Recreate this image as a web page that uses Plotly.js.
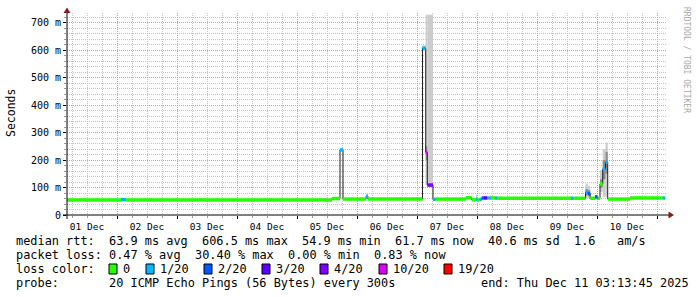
<!DOCTYPE html>
<html><head><meta charset="utf-8">
<script src="https://cdn.plot.ly/plotly-3.0.1.min.js"></script>
<style>html,body{margin:0;padding:0;background:#fff}#chart{width:697px;height:297px}</style>
</head><body><div id="chart"></div>
<script>
// ---- data ----
const segStart = [
 '2025-12-01 04:00','2025-12-02 01:36','2025-12-02 03:36','2025-12-05 14:00','2025-12-05 17:12',
 '2025-12-05 18:24','2025-12-06 03:36','2025-12-06 04:24','2025-12-07 02:12','2025-12-07 03:29',
 '2025-12-07 04:07','2025-12-07 06:24','2025-12-07 07:31','2025-12-07 19:36','2025-12-07 21:53',
 '2025-12-07 23:36','2025-12-08 00:07','2025-12-08 01:00','2025-12-08 01:53','2025-12-08 02:48',
 '2025-12-08 04:07','2025-12-08 04:31','2025-12-08 05:36','2025-12-08 07:12','2025-12-08 08:00',
 '2025-12-09 13:36','2025-12-09 14:31','2025-12-09 19:24','2025-12-09 20:19','2025-12-09 21:17',
 '2025-12-09 23:12','2025-12-10 00:12','2025-12-10 01:12','2025-12-10 02:17','2025-12-10 03:24',
 '2025-12-10 04:17','2025-12-10 13:12','2025-12-11 02:15'];
const dataEnd = '2025-12-11 03:15';
const medianMs = [55,56,55,60,237, 58,68,58,608,228, 109,57,58,63,55, 57,55,57,62,62,
 62,62,62,62,61, 61,61,83,78,61, 66,61,113,167,192, 58,62,62];
const lossCount = [0,1,0,0,1, 0,1,0,1,10, 4,1,0,0,0, 1,0,1,2,3,
 0,1,0,1,0, 1,0,1,2,0, 2,0,0,1,1, 0,0,1];
const smokeLo = [null,null,null,null,233, null,62,null,598,110, 105,null,null,null,null, 54,null,null,null,null,
 null,null,null,null,null, null,null,62,62,null, 60,null,84,65,65, null,null,null];
const smokeHi = [null,null,null,null,242, null,74,null,618,730, 730,null,null,null,null, 75,null,null,null,null,
 null,null,null,null,null, null,null,115,105,null, 72,null,164,240,264, null,null,null];
const coreLo = [null,null,null,null,null, null,null,null,null,200, null,null,null,null,null, null,null,null,null,null,
 null,null,null,null,null, null,null,72,70,null, null,null,100,130,150, null,null,null];
const coreHi = [null,null,null,null,null, null,null,null,null,250, null,null,null,null,null, null,null,null,null,null,
 null,null,null,null,null, null,null,95,90,null, null,null,130,200,230, null,null,null];

const lossLevels = [0,1,2,3,4,10,19];
const lossColors = ['#26ff00','#00b8ff','#0059ff','#5e00ff','#7e00ff','#dd00ff','#ff0000'];
const lossLabels = ['0','1/20','2/20','3/20','4/20','10/20','19/20'];

const yTickVals = [0,100,200,300,400,500,600,700];
const yTickText = ['0','100 m','200 m','300 m','400 m','500 m','600 m','700 m'];

const rttStats = ['63.9 ms avg','606.5 ms max','54.9 ms min','61.7 ms now','40.6 ms sd','1.6','am/s'];
const lossStats = ['0.47 % avg','30.40 % max','0.00 % min','0.83 % now'];
const probeText = '20 ICMP Echo Pings (56 Bytes) every 300s';
const endText = 'end: Thu Dec 11 03:13:45 2025';

// ---- build ----
const toMs = s => Date.parse(s.replace(' ','T') + ':00Z');
const starts = segStart.map(toMs);
const ends = starts.slice(1).concat([toMs(dataEnd)]);
const colorIdx = l => { let k = 0; lossLevels.forEach((v,i)=>{ if (l >= v) k = i; }); return k; };

const traces = [];
function smokeBars(lo, hi, color) {
  const x=[], w=[], b=[], y=[];
  lo.forEach((v,i)=>{ if (v===null || hi[i]===null) return;
    x.push((starts[i]+ends[i])/2); w.push(ends[i]-starts[i]); b.push(v); y.push(hi[i]-v); });
  traces.push({type:'bar', x, y, base:b, width:w, marker:{color, line:{width:0}}, hoverinfo:'skip'});
}
smokeBars(smokeLo, smokeHi, '#cccccc');
smokeBars(coreLo, coreHi, '#8a8a8a');

traces.push({type:'scatter', mode:'lines', x: starts.concat([ends[ends.length-1]]),
  y: medianMs.concat([medianMs[medianMs.length-1]]), line:{shape:'hv', width:1, color:'#202020'}, hoverinfo:'skip'});

lossColors.forEach((c,ci)=>{
  const x=[], y=[];
  medianMs.forEach((m,i)=>{ if (colorIdx(lossCount[i])!==ci) return; x.push(starts[i],ends[i],null); y.push(m,m,null); });
  if (x.length) traces.push({type:'scatter', mode:'lines', x, y, connectgaps:false, line:{width:3.5, color:c}, hoverinfo:'skip'});
});

// ---- layout helpers (pixel -> paper) ----
const PL=67, PW=600, PB=215, PH=202;
const px = v => (v-PL)/PW, py = v => (PB-v)/PH;
const mono = 'DejaVu Sans Mono';
const CW = 7.15, LX = 16, FS = 11.9;
const col = c => LX + c*CW;
const ann = [];
const txt = (t, x, y, size) => ann.push({text:t, xref:'paper', yref:'paper', x:px(x), y:py(y),
  xanchor:'left', yanchor:'middle', showarrow:false, borderpad:0, borderwidth:0,
  font:{family:mono, size:size||FS, color:'#000'}});

txt('median rtt:', col(0), 241);
[13,26,40,53,66,78,84].forEach((c,i)=>txt(rttStats[i], col(c), 241));
txt('packet loss:', col(0), 255);
[13,25,38,50].forEach((c,i)=>txt(lossStats[i], col(c), 255));
txt('loss color:', col(0), 269);
const boxX = [109,146,204,262,320,379,444];
const labX = [123,160,218,276,334,393,458];
const shapes = [];
lossLabels.forEach((l,i)=>{
  txt(l, labX[i], 269);
  shapes.push({type:'rect', xref:'paper', yref:'paper', x0:px(boxX[i]), x1:px(boxX[i]+8), y0:py(274), y1:py(264),
    fillcolor:lossColors[i], line:{color:'#000', width:1}});
});
txt('probe:', col(0), 283);
txt(probeText, col(13), 283);
txt(endText, col(65), 283);

ann.push({text:'Seconds', xref:'paper', yref:'paper', x:px(11), y:py(113), textangle:-90,
  xanchor:'center', yanchor:'middle', showarrow:false, font:{family:mono, size:11.5, color:'#000'}});
ann.push({text:'RRDTOOL / TOBI OETIKER', xref:'paper', yref:'paper', x:px(687), y:py(60), textangle:90,
  xanchor:'center', yanchor:'middle', showarrow:false, font:{family:mono, size:8, color:'#a8a8a8'}});

// axes with arrows
shapes.push({type:'line', xref:'paper', yref:'paper', x0:px(63), x1:px(670), y0:0, y1:0, line:{color:'#000', width:1}});
shapes.push({type:'line', xref:'paper', yref:'paper', x0:0, x1:0, y0:py(219), y1:py(11), line:{color:'#000', width:1}});
shapes.push({type:'path', xref:'paper', yref:'paper',
  path:`M ${px(668.5)} ${py(211.5)} L ${px(674)} ${py(215)} L ${px(668.5)} ${py(218.5)} Z`, fillcolor:'#8b1a1a', line:{width:0}});
shapes.push({type:'path', xref:'paper', yref:'paper',
  path:`M ${px(63.5)} ${py(13)} L ${px(67)} ${py(7.5)} L ${px(70.5)} ${py(13)} Z`, fillcolor:'#8b1a1a', line:{width:0}});

const layout = {
  width:697, height:297, margin:{l:67, r:30, t:13, b:82, pad:0},
  paper_bgcolor:'#fff', plot_bgcolor:'#fff', showlegend:false, barmode:'overlay',
  font:{family:mono, size:9, color:'#000'},
  xaxis:{type:'date', range:['2025-12-01 04:00','2025-12-11 04:00'], tick0:'2025-12-01', dtick:86400000,
    tickformat:'%d %b', ticklabelmode:'period', showgrid:true, gridcolor:'#e09494', griddash:'1px,1px', gridwidth:1,
    ticks:'outside', ticklen:3, tickcolor:'#000', zeroline:false, showline:false, fixedrange:true,
    tickfont:{family:mono, size:9.5, color:'#000'},
    minor:{dtick:21600000, tick0:'2025-12-01', showgrid:true, gridcolor:'#c4c4c4', griddash:'1px,1px', ticks:'outside', ticklen:2, tickcolor:'#999'}},
  yaxis:{range:[0,736], tickvals:yTickVals, ticktext:yTickText, showgrid:true, gridcolor:'#e09494', griddash:'1px,1px',
    ticks:'outside', ticklen:3, tickcolor:'#000', zeroline:false, showline:false, fixedrange:true,
    tickfont:{family:mono, size:10, color:'#000'},
    minor:{dtick:20, showgrid:true, gridcolor:'#c4c4c4', griddash:'1px,1px', ticks:'outside', ticklen:2, tickcolor:'#999'}},
  shapes, annotations:ann
};
Plotly.newPlot('chart', traces, layout, {staticPlot:true, displayModeBar:false});
</script></body></html>
